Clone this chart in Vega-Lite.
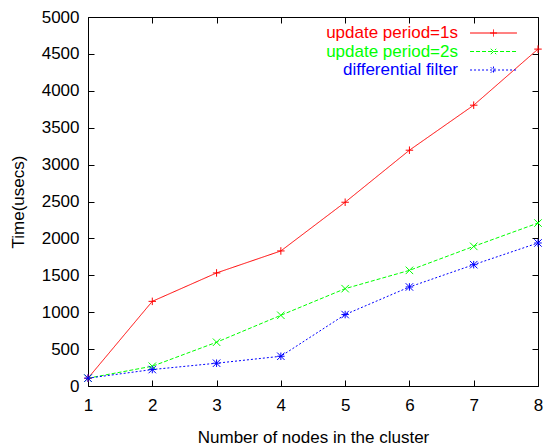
{
  "$schema": "https://vega.github.io/schema/vega-lite/v6.json",
  "width": 450,
  "height": 369,
  "autosize": "none",
  "padding": {"left": 88, "top": 17, "right": 7, "bottom": 59},
  "background": "white",
  "data": {
    "values": [
      {"n": 1, "series": "update period=1s", "t": 106},
      {"n": 2, "series": "update period=1s", "t": 1147},
      {"n": 3, "series": "update period=1s", "t": 1532},
      {"n": 4, "series": "update period=1s", "t": 1830},
      {"n": 5, "series": "update period=1s", "t": 2490},
      {"n": 6, "series": "update period=1s", "t": 3195},
      {"n": 7, "series": "update period=1s", "t": 3805},
      {"n": 8, "series": "update period=1s", "t": 4565},
      {"n": 1, "series": "update period=2s", "t": 106},
      {"n": 2, "series": "update period=2s", "t": 268},
      {"n": 3, "series": "update period=2s", "t": 593},
      {"n": 4, "series": "update period=2s", "t": 958},
      {"n": 5, "series": "update period=2s", "t": 1319},
      {"n": 6, "series": "update period=2s", "t": 1567},
      {"n": 7, "series": "update period=2s", "t": 1892},
      {"n": 8, "series": "update period=2s", "t": 2208},
      {"n": 1, "series": "differential filter", "t": 106},
      {"n": 2, "series": "differential filter", "t": 223},
      {"n": 3, "series": "differential filter", "t": 309},
      {"n": 4, "series": "differential filter", "t": 403},
      {"n": 5, "series": "differential filter", "t": 968},
      {"n": 6, "series": "differential filter", "t": 1342},
      {"n": 7, "series": "differential filter", "t": 1644},
      {"n": 8, "series": "differential filter", "t": 1938}
    ]
  },
  "layer": [
    {
      "mark": {"type": "line", "strokeWidth": 1},
      "encoding": {
        "x": {
          "field": "n", "type": "quantitative",
          "scale": {"domain": [1, 8], "nice": false, "zero": false},
          "axis": {"orient": "bottom", "values": [1, 2, 3, 4, 5, 6, 7, 8], "labelPadding": 17, "title": "Number of nodes in the cluster", "titleBaseline": "alphabetic", "titleY": 56}
        },
        "y": {
          "field": "t", "type": "quantitative",
          "scale": {"domain": [0, 5000], "nice": false},
          "axis": {"orient": "left", "values": [0, 500, 1000, 1500, 2000, 2500, 3000, 3500, 4000, 4500, 5000], "format": "d", "labelPadding": 15, "title": "Time(usecs)", "titleBaseline": "middle", "titleX": -70}
        },
        "color": {
          "field": "series", "type": "nominal",
          "scale": {"domain": ["update period=1s", "update period=2s", "differential filter"], "range": ["#ff0000", "#00ff00", "#0000ff"]},
          "legend": {
            "title": null,
            "encode": {
              "labels": {"update": {"fill": {"scale": "color", "field": "value"}, "x": {"value": -26.5}, "align": {"value": "right"}}}
            }
          }
        },
        "strokeDash": {
          "field": "series", "type": "nominal",
          "scale": {"domain": ["update period=1s", "update period=2s", "differential filter"], "range": [[1, 0], [4, 2], [2, 2]]},
          "legend": {"title": null}
        }
      }
    },
    {
      "transform": [{"filter": "datum.n > 100"}],
      "mark": {"type": "point", "filled": false, "strokeWidth": 1},
      "encoding": {
        "x": {"field": "n", "type": "quantitative", "axis": null},
        "y": {"field": "t", "type": "quantitative", "axis": null},
        "shape": {
          "field": "series", "type": "nominal",
          "scale": {"domain": ["update period=1s", "update period=2s", "differential filter"], "range": ["M-2.76,0H2.76M-0.41,0H0.41M0,-0.41V0.41", "M-2.76,0H2.76M-0.32,-0.32L0.32,0.32M-0.32,0.32L0.32,-0.32", "M-2.76,0H2.76M0,-0.41V0.41M-0.32,-0.32L0.32,0.32M-0.32,0.32L0.32,-0.32"]},
          "legend": {"title": null}
        }
      }
    },
    {
      "transform": [{"filter": "datum.series == 'update period=1s'"}],
      "mark": {"type": "point", "filled": false, "size": 56, "strokeWidth": 1, "opacity": 1, "color": "#ff0000", "shape": "M-1,0H1M0,-1V1"},
      "encoding": {
        "x": {"field": "n", "type": "quantitative", "axis": {"orient": "top", "values": [1, 2, 3, 4, 5, 6, 7, 8], "labels": false, "title": null}},
        "y": {"field": "t", "type": "quantitative", "axis": {"orient": "right", "values": [0, 500, 1000, 1500, 2000, 2500, 3000, 3500, 4000, 4500, 5000], "labels": false, "title": null}}
      }
    },
    {
      "transform": [{"filter": "datum.series == 'update period=2s'"}],
      "mark": {"type": "point", "filled": false, "size": 56, "strokeWidth": 1, "opacity": 1, "color": "#00ff00", "shape": "M-1,-1L1,1M-1,1L1,-1"},
      "encoding": {
        "x": {"field": "n", "type": "quantitative", "axis": null},
        "y": {"field": "t", "type": "quantitative", "axis": null}
      }
    },
    {
      "transform": [{"filter": "datum.series == 'differential filter'"}],
      "mark": {"type": "point", "filled": false, "size": 56, "strokeWidth": 1, "opacity": 1, "color": "#0000ff", "shape": "M-1,0H1M0,-1V1M-1,-1L1,1M-1,1L1,-1"},
      "encoding": {
        "x": {"field": "n", "type": "quantitative", "axis": null},
        "y": {"field": "t", "type": "quantitative", "axis": null}
      }
    }
  ],
  "config": {
    "view": {"stroke": "black", "strokeWidth": 1},
    "legend": {
      "orient": "none", "legendX": 396.5, "legendY": 7,
      "padding": 0, "symbolSize": 289, "symbolStrokeWidth": 1, "rowPadding": 1.5,
      "labelFont": "Liberation Sans", "labelFontSize": 17, "labelLimit": 300
    },
    "axis": {
      "grid": false, "domain": false, "tickSize": -6, "tickColor": "black", "tickWidth": 1, "zindex": 1,
      "labelFont": "Liberation Sans", "labelFontSize": 17, "labelColor": "black",
      "labelFlush": false, "labelOverlap": false,
      "titleFont": "Liberation Sans", "titleFontSize": 17, "titleFontWeight": "normal", "titleColor": "black"
    }
  }
}
